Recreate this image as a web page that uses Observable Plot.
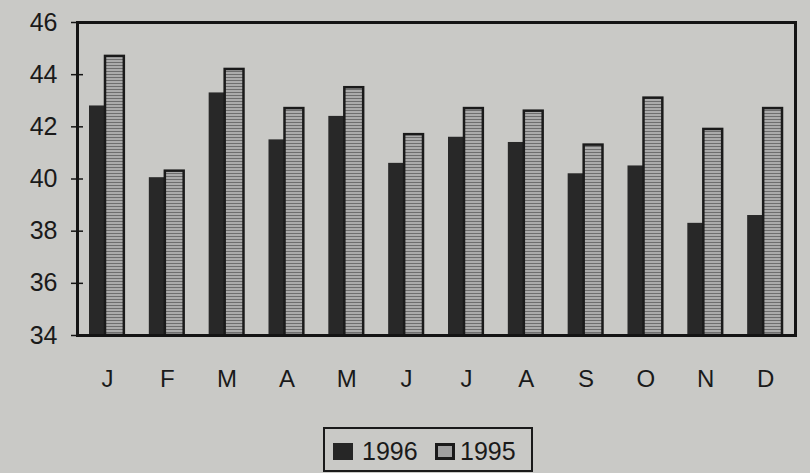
<!DOCTYPE html>
<html>
<head>
<meta charset="utf-8">
<script src="https://cdn.jsdelivr.net/npm/d3@7"></script>
<script src="https://cdn.jsdelivr.net/npm/@observablehq/plot@0.6"></script>
<style>
  html, body { margin: 0; padding: 0; background: #c9c9c6; }
  body { width: 810px; height: 473px; overflow: hidden; font-family: "Liberation Sans", Arial, sans-serif; position: relative; }
  #legend { position: absolute; left: 323px; top: 427px; width: 206px; height: 41px; border: 2px solid #1a1a1a;
            font-size: 25px; color: #1a1a1a; }
  .sw { position: absolute; top: 14px; width: 20px; height: 17px; box-sizing: border-box; }
  .lt { position: absolute; top: 8px; }
</style>
</head>
<body>
<div id="chart"></div>
<div id="legend">
  <span class="sw" style="left:8px;background:#262626"></span><span class="lt" style="left:37px">1996</span>
  <span class="sw" style="left:110px;background:#a0a0a0;border:3px solid #1a1a1a"></span><span class="lt" style="left:135px">1995</span>
</div>
<script>
const monthKeys = ["Jan","Feb","Mar","Apr","May","Jun","Jul","Aug","Sep","Oct","Nov","Dec"];
const monthLabels = ["J","F","M","A","M","J","J","A","S","O","N","D"];
const values1996 = [42.8, 40.05, 43.3, 41.5, 42.4, 40.6, 41.6, 41.4, 40.2, 40.5, 38.3, 38.6];
const values1995 = [44.7, 40.3, 44.2, 42.7, 43.5, 41.7, 42.7, 42.6, 41.3, 43.1, 41.9, 42.7];
const yTicks = [34, 36, 38, 40, 42, 44, 46];

const d96 = monthKeys.map((m, i) => ({month: m, value: values1996[i]}));
const d95 = monthKeys.map((m, i) => ({month: m, value: values1995[i]}));
const labelOf = new Map(monthKeys.map((m, i) => [m, monthLabels[i]]));

const chart = Plot.plot({
  width: 810,
  height: 400,
  marginLeft: 77,
  marginRight: 15,
  marginTop: 22,
  marginBottom: 65,
  style: {background: "transparent", fontFamily: "'Liberation Sans', Arial, sans-serif", color: "#1a1a1a"},
  x: {type: "band", domain: monthKeys, padding: 0, round: false},
  y: {domain: [34, 46]},
  marks: [
    Plot.barY(d96, {x: "month", y1: 34, y2: "value", fill: "#282828", insetLeft: 12, insetRight: 32}),
    Plot.barY(d95, {x: "month", y1: 34, y2: "value", fill: "url(#hatch95)", stroke: "#1a1a1a", strokeWidth: 2.5, insetLeft: 28, insetRight: 13}),
    Plot.frame({stroke: "#141414", strokeWidth: 3}),
    Plot.axisY({ticks: yTicks, tickSize: 6, tickPadding: 14, fontSize: 25, stroke: "#141414", strokeWidth: 1.5, label: null}),
    Plot.axisY({ticks: yTicks, tickSize: 6, text: null, dx: 6, stroke: "#141414", strokeWidth: 1.5, label: null}),
    Plot.axisX({tickFormat: d => labelOf.get(d), tickSize: 0, tickPadding: 34, fontSize: 24, label: null})
  ]
});

const svg = d3.select(chart);
const defs = svg.insert("defs", ":first-child");
const pat = defs.append("pattern").attr("id", "hatch95").attr("patternUnits", "userSpaceOnUse")
  .attr("width", 4).attr("height", 3);
pat.append("rect").attr("width", 4).attr("height", 3).attr("fill", "#ababab");
pat.append("rect").attr("y", 2).attr("width", 4).attr("height", 1).attr("fill", "#6e6e6e");
document.getElementById("chart").appendChild(chart);
</script>
</body>
</html>
